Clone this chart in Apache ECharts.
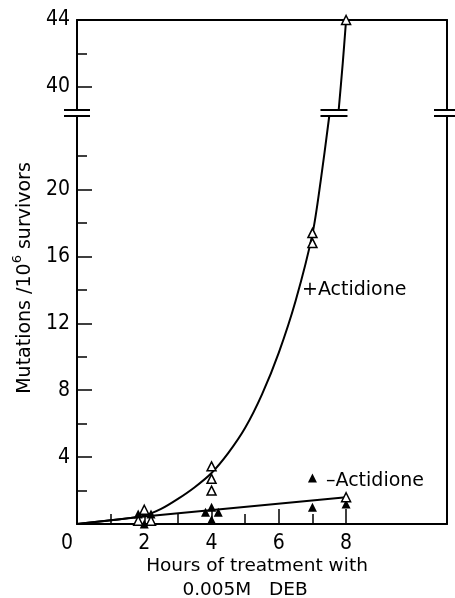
<!DOCTYPE html>
<html><head><meta charset="utf-8">
<script src="https://cdn.jsdelivr.net/npm/echarts@6/dist/echarts.min.js"></script>
<style>html,body{margin:0;padding:0;background:#fff}#c{width:455px;height:598px}</style>
</head><body><div id="c"></div>
<script>
// ---- data ----
const xTickMajor = [2, 4, 6, 8];
const xTickMinor = [1, 3, 5, 7];
const xTickLabels = [0, 2, 4, 6, 8];
const yLowMajor = [4, 8, 12, 16, 20];
const yLowMinor = [2, 6, 10, 14, 18, 22];
const yUpMajor = [40, 44];
const yUpMinor = [42];
const xRange = [0, 11];
const yLowRange = [0, 24.4];
const yUpRange = [38.6, 44];

// +Actidione (open triangles)
const plusX = [1.82, 2.0, 2.2, 4, 4, 4, 7, 7, 8, 8];
const plusY = [0.2, 0.85, 0.2, 3.45, 2.7, 2.0, 17.4, 16.8, 1.6, 44];
// -Actidione (filled triangles)
const minusX = [1.82, 2.0, 2.2, 3.82, 4.0, 4.2, 4.0, 7, 7, 8];
const minusY = [0.6, 0.0, 0.6, 0.7, 1.0, 0.7, 0.25, 1.0, 2.75, 1.2];
// fitted curves
const plusCurveX = [0, 1, 2, 2.5, 3, 3.5, 4, 4.5, 5, 5.5, 6, 6.5, 7, 7.25, 7.5, 7.78, 7.9, 8];
const plusCurveY = [0, 0.22, 0.5, 0.9, 1.5, 2.2, 3.05, 4.25, 5.75, 7.75, 10.25, 13.35, 17.35, 20.6, 24.4, 38.6, 41.4, 44];
const minusCurveX = [0, 2, 8];
const minusCurveY = [0, 0.45, 1.6];

// ---- build ----
const zip = (xs, ys) => xs.map((x, i) => [x, ys[i]]);
const inRange = (pts, r) => pts.filter(p => p[1] >= r[0] - 0.2 && p[1] <= r[1] + 0.2);
const plusPts = zip(plusX, plusY), minusPts = zip(minusX, minusY);
const plusCurve = zip(plusCurveX, plusCurveY), minusCurve = zip(minusCurveX, minusCurveY);
const plusCurveLow = plusCurve.filter(p => p[1] <= yLowRange[1]);
const plusCurveUp = plusCurve.filter(p => p[1] >= yUpRange[0]);

const FONT = 'DejaVu Sans';
const NUMFONT = "'DejaVu Sans Condensed', 'DejaVu Sans'";
const BLK = '#000';
const lineStyle = { color: BLK, width: 2 };

const chart = echarts.init(document.getElementById('c'), null, { renderer: 'canvas' });

const baseX = { type: 'value', min: xRange[0], max: xRange[1], splitLine: { show: false } };
const option = {
  backgroundColor: '#fff',
  animation: false,
  grid: [
    { left: 77, right: 8, top: 116, bottom: 74 },
    { left: 77, right: 8, top: 20, height: 90 }
  ],
  xAxis: [
    Object.assign({}, baseX, {
      gridIndex: 0, position: 'bottom',
      axisLine: { show: true, onZero: false, lineStyle },
      axisTick: { show: true, inside: true, length: 15, customValues: xTickMajor, lineStyle: { color: BLK, width: 1.5 } },
      axisLabel: {
        show: true, customValues: xTickLabels, margin: 9, color: BLK, fontSize: 21, fontFamily: NUMFONT,
        formatter: v => v === 0 ? '{z|0}' : String(v),
        rich: { z: { fontSize: 21, fontFamily: NUMFONT, color: BLK, padding: [0, 20, 0, 0] } }
      }
    }),
    Object.assign({}, baseX, {
      gridIndex: 0, position: 'bottom',
      axisLine: { show: false },
      axisTick: { show: true, inside: true, length: 10, customValues: xTickMinor, lineStyle: { color: BLK, width: 1.5 } },
      axisLabel: { show: false }
    }),
    Object.assign({}, baseX, {
      gridIndex: 1, position: 'top',
      axisLine: { show: true, onZero: false, lineStyle },
      axisTick: { show: false }, axisLabel: { show: false }
    })
  ],
  yAxis: [
    { type: 'value', gridIndex: 0, position: 'left', min: yLowRange[0], max: yLowRange[1], splitLine: { show: false },
      axisLine: { show: true, onZero: false, lineStyle },
      axisTick: { show: true, inside: true, length: 15, customValues: yLowMajor, lineStyle: { color: BLK, width: 1.5 } },
      axisLabel: { show: true, customValues: yLowMajor, margin: 7, color: BLK, fontSize: 21, fontFamily: NUMFONT } },
    { type: 'value', gridIndex: 0, position: 'left', min: yLowRange[0], max: yLowRange[1], splitLine: { show: false },
      axisLine: { show: false },
      axisTick: { show: true, inside: true, length: 10, customValues: yLowMinor, lineStyle: { color: BLK, width: 1.5 } },
      axisLabel: { show: false } },
    { type: 'value', gridIndex: 0, position: 'right', min: yLowRange[0], max: yLowRange[1], splitLine: { show: false },
      axisLine: { show: true, onZero: false, lineStyle }, axisTick: { show: false }, axisLabel: { show: false } },
    { type: 'value', gridIndex: 1, position: 'left', min: yUpRange[0], max: yUpRange[1], splitLine: { show: false },
      axisLine: { show: true, onZero: false, lineStyle },
      axisTick: { show: true, inside: true, length: 15, customValues: yUpMajor, lineStyle: { color: BLK, width: 1.5 } },
      axisLabel: { show: true, customValues: yUpMajor, margin: 7, color: BLK, fontSize: 21, fontFamily: NUMFONT } },
    { type: 'value', gridIndex: 1, position: 'left', min: yUpRange[0], max: yUpRange[1], splitLine: { show: false },
      axisLine: { show: false },
      axisTick: { show: true, inside: true, length: 10, customValues: yUpMinor, lineStyle: { color: BLK, width: 1.5 } },
      axisLabel: { show: false } },
    { type: 'value', gridIndex: 1, position: 'right', min: yUpRange[0], max: yUpRange[1], splitLine: { show: false },
      axisLine: { show: true, onZero: false, lineStyle }, axisTick: { show: false }, axisLabel: { show: false } }
  ],
  series: [
    { type: 'line', xAxisIndex: 0, yAxisIndex: 0, data: plusCurveLow, showSymbol: false, clip: true,
      smooth: 0.3, lineStyle, z: 2 },
    { type: 'line', xAxisIndex: 2, yAxisIndex: 3, data: plusCurveUp, showSymbol: false, clip: true,
      smooth: 0.3, lineStyle, z: 2 },
    { type: 'line', xAxisIndex: 0, yAxisIndex: 0, data: minusCurve, showSymbol: false, clip: true, lineStyle, z: 2 },
    { type: 'scatter', xAxisIndex: 0, yAxisIndex: 0, data: inRange(minusPts, yLowRange), symbol: 'triangle', symbolSize: 9,
      itemStyle: { color: BLK, opacity: 1 }, z: 3 },
    { type: 'scatter', xAxisIndex: 0, yAxisIndex: 0, data: inRange(plusPts, yLowRange), symbol: 'triangle', symbolSize: 9,
      itemStyle: { color: '#fff', borderColor: BLK, borderWidth: 1.5, opacity: 1 }, z: 4 },
    { type: 'scatter', xAxisIndex: 2, yAxisIndex: 3, data: inRange(plusPts, yUpRange), symbol: 'triangle', symbolSize: 9,
      clip: false, itemStyle: { color: '#fff', borderColor: BLK, borderWidth: 1.5, opacity: 1 }, z: 4 }
  ]
};
chart.setOption(option);

// break marks "=" placed through the axes' own scales
const lowPix = (x, y) => chart.convertToPixel({ xAxisIndex: 0, yAxisIndex: 0 }, [x, y]);
const upPix = (x, y) => chart.convertToPixel({ xAxisIndex: 2, yAxisIndex: 3 }, [x, y]);
const yLowTop = lowPix(0, yLowRange[1])[1];
const yUpBot = upPix(0, yUpRange[0])[1];
const lastLow = plusCurveLow[plusCurveLow.length - 1];
const firstUp = plusCurveUp[0];
const curveMid = (lowPix(lastLow[0], lastLow[1])[0] + upPix(firstUp[0], firstUp[1])[0]) / 2;
const leftX = lowPix(xRange[0], 0)[0], rightX = lowPix(xRange[1], 0)[0];
function breakMark(cx, half) {
  return [
    { type: 'rect', shape: { x: cx - half, y: yUpBot + 1, width: 2 * half, height: yLowTop - yUpBot - 2 }, style: { fill: '#fff' }, z: 10 },
    { type: 'line', shape: { x1: cx - half, y1: yUpBot, x2: cx + half, y2: yUpBot }, style: { stroke: BLK, lineWidth: 2 }, z: 11 },
    { type: 'line', shape: { x1: cx - half, y1: yLowTop, x2: cx + half, y2: yLowTop }, style: { stroke: BLK, lineWidth: 2 }, z: 11 }
  ];
}
const graphics = [].concat(breakMark(leftX, 13), breakMark(curveMid, 13.5), breakMark(rightX, 13));
graphics.push(
  { type: 'text', left: 302, top: 281, style: { text: '+Actidione', font: '19px "DejaVu Sans"', fill: BLK }, z: 12 },
  { type: 'text', left: 326, top: 472, style: { text: '–Actidione', font: '19px "DejaVu Sans"', fill: BLK }, z: 12 },
  { type: 'text', x: 257, y: 566, style: { text: 'Hours of treatment with', font: '18.5px "DejaVu Sans"', fill: BLK, align: 'center', verticalAlign: 'middle' }, z: 12 },
  { type: 'text', x: 245, y: 590, style: { text: '0.005M   DEB', font: '18.5px "DejaVu Sans"', fill: BLK, align: 'center', verticalAlign: 'middle' }, z: 12 },
  { type: 'text', x: 25, y: 278, rotation: Math.PI / 2, z: 12,
    style: {
      text: '{n|Mutations /10}{s|6}{n| survivors}', align: 'center', verticalAlign: 'middle', fill: BLK,
      rich: {
        n: { fontSize: 19, fontFamily: FONT, color: BLK, lineHeight: 28, verticalAlign: 'middle' },
        s: { fontSize: 13, fontFamily: FONT, color: BLK, lineHeight: 14, verticalAlign: 'top' }
      }
    } }
);
chart.setOption({ graphic: graphics });
</script>
</body></html>
